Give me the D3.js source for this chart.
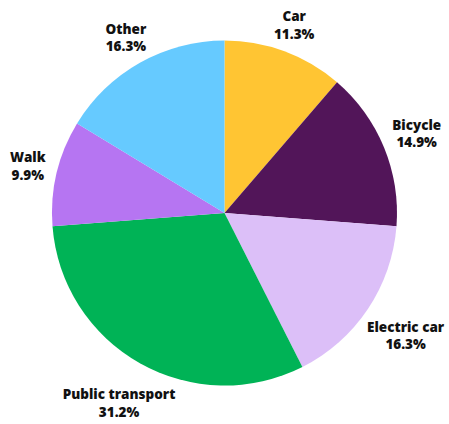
<!DOCTYPE html>
<html>
<head>
<meta charset="utf-8">
<script src="https://cdn.jsdelivr.net/npm/d3@7"></script>
<style>
  html, body { margin: 0; padding: 0; background: #fff; }
  svg { display: block; }
  .lbl { font-family: "Open Sans", sans-serif; font-weight: 800; font-size: 13.5px; fill: #111; }
</style>
</head>
<body>
<svg id="chart" width="449" height="424"></svg>
<script>
// Share of trips by mode of transport (%)
const categories = ["Car", "Bicycle", "Electric car", "Public transport", "Walk", "Other"];
const shares = [11.3, 14.9, 16.3, 31.2, 9.9, 16.3];
const colors = ["#FFC533", "#521559", "#DCBFF8", "#00B356", "#B675F2", "#66CAFF"];

const width = 449, height = 424;
const cx = 224.5, cy = 213, radius = 172.5;
const lineGap = 17.5;   // distance between the two label lines
const labelPad = 12;    // gap between the pie edge and a label box

const rows = categories.map((c, i) => ({ name: c, value: shares[i], color: colors[i] }));

const svg = d3.select("#chart");
const g = svg.append("g").attr("transform", `translate(${cx},${cy})`);

const pie = d3.pie().sort(null).value(d => d.value).startAngle(0).endAngle(2 * Math.PI);
const arc = d3.arc().innerRadius(0).outerRadius(radius);
const arcs = pie(rows);

g.selectAll("path.slice")
  .data(arcs)
  .join("path")
  .attr("class", "slice")
  .attr("d", arc)
  .attr("fill", d => d.data.color);

// Two-line labels: name, then percentage; each block sits just outside its slice
const labels = g.selectAll("text.lbl")
  .data(arcs)
  .join("text")
  .attr("class", "lbl")
  .attr("text-anchor", "middle");

labels.append("tspan")
  .attr("x", 0)
  .attr("y", -lineGap / 2 + 4.8)
  .text(d => d.data.name);
labels.append("tspan")
  .attr("x", 0)
  .attr("y", lineGap / 2 + 4.8)
  .text(d => d3.format(".1f")(d.data.value) + "%");

labels.each(function(d) {
  const box = this.getBBox();
  const a = (d.startAngle + d.endAngle) / 2;
  const sx = Math.sin(a), cyA = Math.cos(a);
  const hw = box.width / 2, hh = 15;
  // reach of the label box along the radial direction, pushed a little
  // further for blocks hanging below the pie
  const reach = Math.sqrt((hw * sx) ** 2 + (hh * cyA) ** 2);
  const rr = radius + labelPad + reach;
  const drop = cyA < 0 ? -cyA * 3 : 0;
  d3.select(this).attr("transform", `translate(${rr * sx},${-rr * cyA + drop})`);
});
</script>
</body>
</html>
